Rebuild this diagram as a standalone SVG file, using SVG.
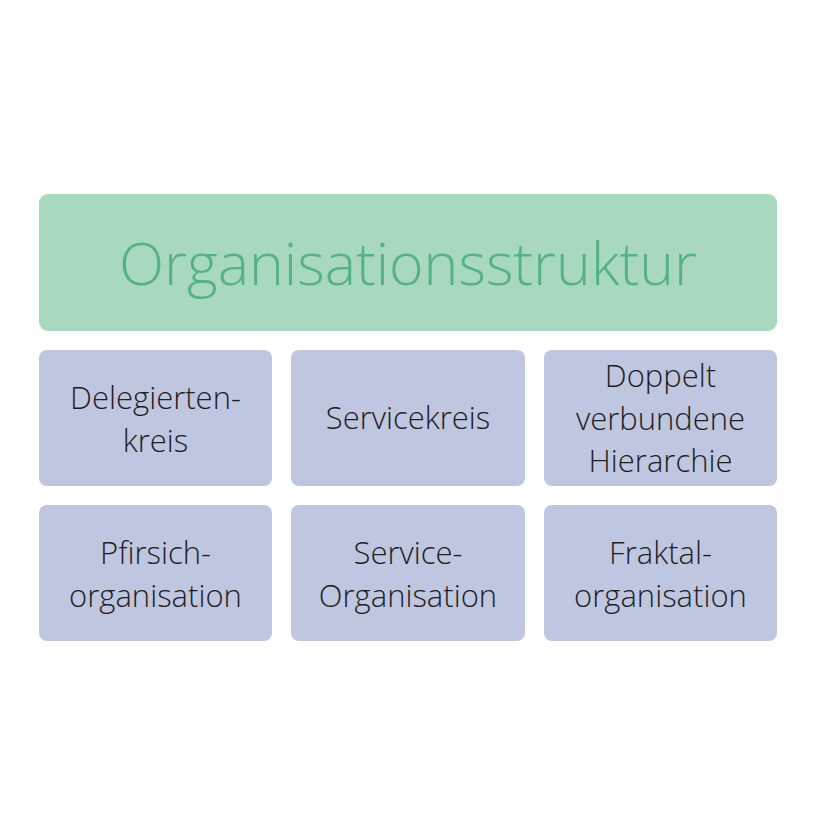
<svg xmlns="http://www.w3.org/2000/svg" width="816" height="836" viewBox="0 0 816 836">
<style>
.t{font-family:"Open Sans","Liberation Sans",sans-serif;font-weight:300;text-anchor:middle}
.s{fill:#bfc6df}
.l{font-size:31px;fill:#1f1f1f}
</style>
<rect width="816" height="836" fill="#ffffff"/>
<g id="connectors"></g>
<g id="root">
<rect x="39" y="194" width="738" height="137" rx="9" fill="#a8d8c0"/>
<text class="t" x="408" y="285" font-size="59" fill="#55b382">Organisationsstruktur</text>
</g>
<g id="delegiertenkreis">
<rect class="s" x="39" y="350" width="233" height="136" rx="8"/>
<text class="t l" x="155.5" y="409">Delegierten-</text>
<text class="t l" x="155.5" y="452">kreis</text>
</g>
<g id="servicekreis">
<rect class="s" x="291" y="350" width="234" height="136" rx="8"/>
<text class="t l" x="408" y="429">Servicekreis</text>
</g>
<g id="doppelt">
<rect class="s" x="544" y="350" width="233" height="136" rx="8"/>
<text class="t l" x="660.5" y="387">Doppelt</text>
<text class="t l" x="660.5" y="430">verbundene</text>
<text class="t l" x="660.5" y="472">Hierarchie</text>
</g>
<g id="pfirsich">
<rect class="s" x="39" y="505" width="233" height="136" rx="8"/>
<text class="t l" x="155.5" y="564">Pfirsich-</text>
<text class="t l" x="155.5" y="607">organisation</text>
</g>
<g id="service-org">
<rect class="s" x="291" y="505" width="234" height="136" rx="8"/>
<text class="t l" x="408" y="564">Service-</text>
<text class="t l" x="408" y="607">Organisation</text>
</g>
<g id="fraktal">
<rect class="s" x="544" y="505" width="233" height="136" rx="8"/>
<text class="t l" x="660.5" y="564">Fraktal-</text>
<text class="t l" x="660.5" y="607">organisation</text>
</g>
</svg>
